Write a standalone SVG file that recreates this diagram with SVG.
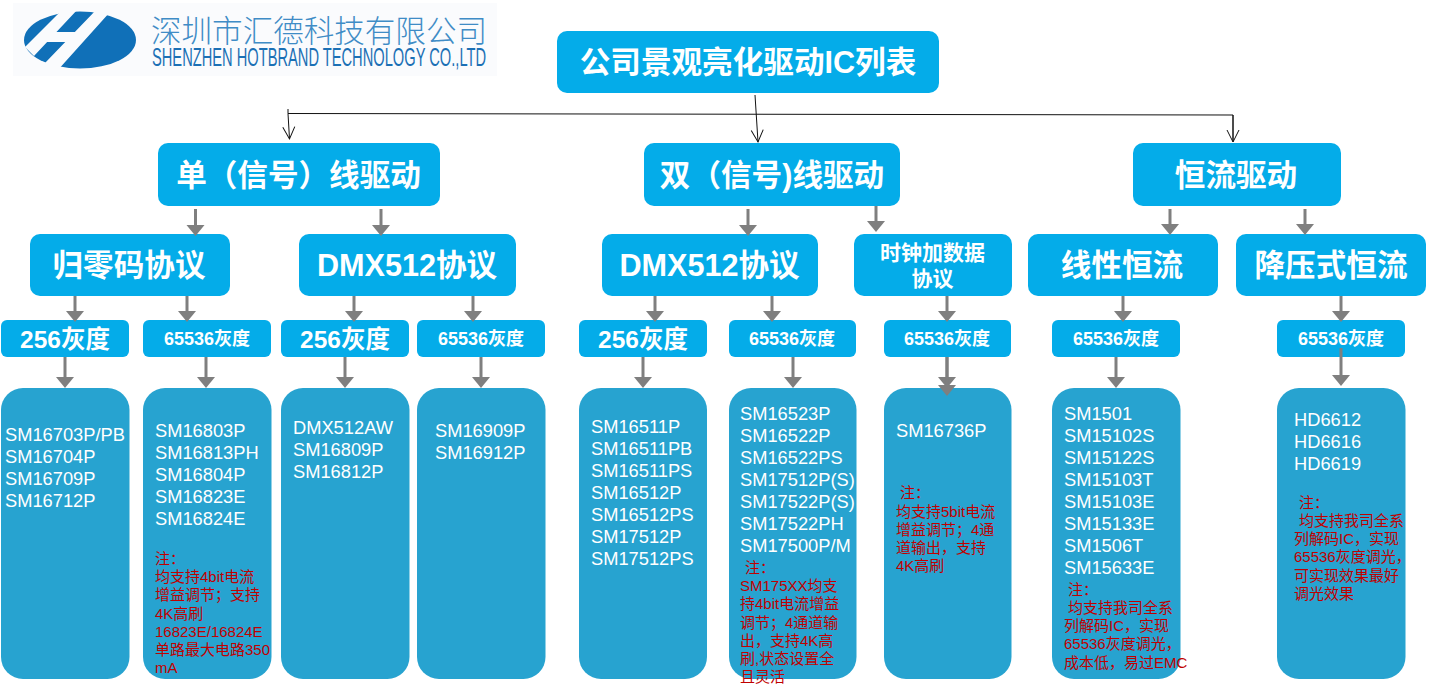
<svg xmlns="http://www.w3.org/2000/svg" width="1430" height="684" viewBox="0 0 1430 684">
<style>
text{font-family:"Liberation Sans","Noto Sans CJK SC",sans-serif}
.b{fill:#04ACE9}
.p{fill:#27A3D0}
.h{fill:#fff;font-weight:700;text-anchor:middle}
.h31{font-size:30.600px}
.h25{font-size:24.500px}
.h18{font-size:18px}
.h21{font-size:21px}
.w{fill:#fff;font-size:18.300px}
.r{fill:#C00000;font-size:15px}
.g{stroke:#7F7F7F;stroke-width:3;fill:none}
.c{marker-end:url(#gb)}
.k{stroke:#111;stroke-width:1;fill:none}
.o{marker-end:url(#oa)}
</style>
<defs>
<marker id="gb" markerUnits="userSpaceOnUse" markerWidth="18" markerHeight="12" refX="0" refY="0" orient="auto" overflow="visible"><path d="M0 -9L11 0L0 9Z" fill="#7F7F7F"/></marker>
<marker id="oa" markerUnits="userSpaceOnUse" markerWidth="14" markerHeight="14" refX="0" refY="0" orient="auto" overflow="visible"><path d="M-12 -6L0 0L-12 6" fill="none" stroke="#111" stroke-width="1"/></marker>
</defs>
<rect width="1430" height="684" fill="#fff"/>
<g id="logo">
<rect x="13" y="3" width="484" height="73" fill="#FAFBFD"/>
<ellipse cx="80" cy="40" rx="56" ry="28.500" fill="#1070B8"/>
<path d="M63 9L78 9L34 56L25 47Z M97 9L110 12L57 71L45 63Z M55 32H83V42H45Z" fill="#FAFBFD"/>
<text x="151" y="42" font-size="30.500" font-weight="300" fill="#3F8CC6" textLength="336" lengthAdjust="spacingAndGlyphs">深圳市汇德科技有限公司</text>
<text x="152" y="66" font-size="25" fill="#1B70B5" textLength="334" lengthAdjust="spacingAndGlyphs">SHENZHEN HOTBRAND TECHNOLOGY CO.,LTD</text>
</g>
<g id="root"><rect class="b" x="557" y="31" width="382" height="62" rx="10"/><text class="h h31" x="748" y="73">公司景观亮化驱动IC列表</text></g>
<g id="n-single"><rect class="b" x="158" y="143" width="282" height="63" rx="10"/><text class="h h31" x="298.500" y="186">单（信号）线驱动</text></g>
<g id="n-double"><rect class="b" x="644" y="143" width="256" height="63" rx="10"/><text class="h h31" x="772" y="186">双（信号)线驱动</text></g>
<g id="n-cc"><rect class="b" x="1133" y="143" width="208" height="63" rx="10"/><text class="h h31" x="1236" y="186">恒流驱动</text></g>

<g id="n-rz"><rect class="b" x="30" y="234" width="200" height="62" rx="10"/><text class="h h31" x="129" y="276">归零码协议</text></g>
<g id="n-dmx1"><rect class="b" x="299" y="234" width="217" height="62" rx="10"/><text class="h h31" x="407" y="276">DMX512协议</text></g>
<g id="n-dmx2"><rect class="b" x="602" y="234" width="216" height="62" rx="10"/><text class="h h31" x="709.500" y="276">DMX512协议</text></g>
<g id="n-clk"><rect class="b" x="854" y="234" width="158" height="62" rx="10"/><text class="h h21" x="932.500" y="260">时钟加数据</text><text class="h h21" x="932.500" y="286">协议</text></g>
<g id="n-lin"><rect class="b" x="1028" y="234" width="190" height="62" rx="10"/><text class="h h31" x="1122" y="276">线性恒流</text></g>
<g id="n-buck"><rect class="b" x="1236" y="234" width="190" height="62" rx="10"/><text class="h h31" x="1331" y="276">降压式恒流</text></g>

<g id="g1"><rect class="b" x="1" y="320" width="128" height="37" rx="6"/><text class="h h25" x="65" y="348">256灰度</text></g>
<g id="g2"><rect class="b" x="143" y="320" width="128" height="37" rx="6"/><text class="h h18" x="207" y="345">65536灰度</text></g>
<g id="g3"><rect class="b" x="281" y="320" width="128" height="37" rx="6"/><text class="h h25" x="345" y="348">256灰度</text></g>
<g id="g4"><rect class="b" x="417" y="320" width="128" height="37" rx="6"/><text class="h h18" x="481" y="345">65536灰度</text></g>
<g id="g5"><rect class="b" x="579" y="320" width="128" height="37" rx="6"/><text class="h h25" x="643" y="348">256灰度</text></g>
<g id="g6"><rect class="b" x="729" y="320" width="127" height="37" rx="6"/><text class="h h18" x="792" y="345">65536灰度</text></g>
<g id="g7"><rect class="b" x="884" y="320" width="127" height="37" rx="6"/><text class="h h18" x="947" y="345">65536灰度</text></g>
<g id="g8"><rect class="b" x="1052" y="320" width="128" height="37" rx="6"/><text class="h h18" x="1116" y="345">65536灰度</text></g>
<g id="g9"><rect class="b" x="1277" y="320" width="128" height="37" rx="6"/><text class="h h18" x="1341" y="345">65536灰度</text></g>

<g id="l1"><rect class="p" x="1" y="388" width="128.500" height="291" rx="22"/>
<text class="w"><tspan x="5" y="441">SM16703P/PB</tspan><tspan x="5" y="463">SM16704P</tspan><tspan x="5" y="485">SM16709P</tspan><tspan x="5" y="507">SM16712P</tspan></text></g>
<g id="l2"><rect class="p" x="143" y="388" width="128.500" height="291" rx="22"/>
<text class="w"><tspan x="155" y="437">SM16803P</tspan><tspan x="155" y="459">SM16813PH</tspan><tspan x="155" y="481">SM16804P</tspan><tspan x="155" y="503">SM16823E</tspan><tspan x="155" y="525">SM16824E</tspan></text>
<text class="r"><tspan x="155" y="564">注：</tspan><tspan x="155" y="582">均支持4bit电流</tspan><tspan x="155" y="600">增益调节；支持</tspan><tspan x="155" y="618.500">4K高刷</tspan><tspan x="155" y="637">16823E/16824E</tspan><tspan x="155" y="655">单路最大电路350</tspan><tspan x="155" y="673">mA</tspan></text></g>
<g id="l3"><rect class="p" x="281" y="388" width="128.500" height="291" rx="22"/>
<text class="w"><tspan x="293" y="434">DMX512AW</tspan><tspan x="293" y="456">SM16809P</tspan><tspan x="293" y="478">SM16812P</tspan></text></g>
<g id="l4"><rect class="p" x="417" y="388" width="128.500" height="291" rx="22"/>
<text class="w"><tspan x="435" y="437">SM16909P</tspan><tspan x="435" y="459">SM16912P</tspan></text></g>
<g id="l5"><rect class="p" x="579" y="388" width="128" height="291" rx="22"/>
<text class="w"><tspan x="591" y="433">SM16511P</tspan><tspan x="591" y="455">SM16511PB</tspan><tspan x="591" y="477">SM16511PS</tspan><tspan x="591" y="499">SM16512P</tspan><tspan x="591" y="521">SM16512PS</tspan><tspan x="591" y="543">SM17512P</tspan><tspan x="591" y="565">SM17512PS</tspan></text></g>
<g id="l6"><rect class="p" x="729" y="388" width="127.500" height="291" rx="22"/>
<text class="w"><tspan x="740" y="420">SM16523P</tspan><tspan x="740" y="442">SM16522P</tspan><tspan x="740" y="464">SM16522PS</tspan><tspan x="740" y="486">SM17512P(S)</tspan><tspan x="740" y="508">SM17522P(S)</tspan><tspan x="740" y="530">SM17522PH</tspan><tspan x="740" y="552">SM17500P/M</tspan></text>
<text class="r"><tspan x="745" y="573">注：</tspan><tspan x="740" y="591">SM175XX均支</tspan><tspan x="740" y="609">持4bit电流增益</tspan><tspan x="740" y="628">调节；4通道输</tspan><tspan x="740" y="646">出，支持4K高</tspan><tspan x="740" y="664">刷,状态设置全</tspan><tspan x="740" y="682">且灵活</tspan></text></g>
<g id="l7"><rect class="p" x="884" y="388" width="127.500" height="291" rx="22"/>
<text class="w"><tspan x="896" y="437">SM16736P</tspan></text>
<text class="r"><tspan x="900" y="498">注：</tspan><tspan x="896" y="517">均支持5bit电流</tspan><tspan x="896" y="535">增益调节；4通</tspan><tspan x="896" y="553">道输出，支持</tspan><tspan x="896" y="571">4K高刷</tspan></text></g>
<g id="l8"><rect class="p" x="1052" y="388" width="128.500" height="291" rx="22"/>
<text class="w"><tspan x="1064" y="420">SM1501</tspan><tspan x="1064" y="442">SM15102S</tspan><tspan x="1064" y="464">SM15122S</tspan><tspan x="1064" y="486">SM15103T</tspan><tspan x="1064" y="508">SM15103E</tspan><tspan x="1064" y="530">SM15133E</tspan><tspan x="1064" y="552">SM1506T</tspan><tspan x="1064" y="574">SM15633E</tspan></text>
<text class="r"><tspan x="1068" y="595">注：</tspan><tspan x="1068" y="613">均支持我司全系</tspan><tspan x="1064" y="631">列解码IC，实现</tspan><tspan x="1064" y="649">65536灰度调光，</tspan><tspan x="1064" y="668">成本低，易过EMC</tspan></text></g>
<g id="l9"><rect class="p" x="1277" y="388" width="128.500" height="291" rx="22"/>
<text class="w"><tspan x="1294" y="426">HD6612</tspan><tspan x="1294" y="448">HD6616</tspan><tspan x="1294" y="470">HD6619</tspan></text>
<text class="r"><tspan x="1299" y="508">注：</tspan><tspan x="1299" y="526">均支持我司全系</tspan><tspan x="1294" y="544">列解码IC，实现</tspan><tspan x="1294" y="562">65536灰度调光，</tspan><tspan x="1294" y="581">可实现效果最好</tspan><tspan x="1294" y="599">调光效果</tspan></text></g>
<g id="connectors">
<path class="k" d="M288 109V113.500L1233 115V141"/>
<path class="k o" d="M288 113.500L289.500 139"/>
<path class="k o" d="M755 95L758 142"/>
<path class="k o" d="M1233 115V142"/>
<g class="g">
<path class="c" d="M195.500 209V225"/><path class="c" d="M381 209V225"/>
<path class="c" d="M748 209V225"/><path class="c" d="M876 206V221"/>
<path class="c" d="M1170 209V224"/><path class="c" d="M1305 209V224"/>
<path class="c" d="M75 296V311"/><path class="c" d="M187 296V311"/><path class="c" d="M354 296V311"/><path class="c" d="M473 296V311"/>
<path class="c" d="M655 296V311"/><path class="c" d="M772 296V311"/><path class="c" d="M947 296V311"/><path class="c" d="M1123 296V311"/><path class="c" d="M1341 296V311"/>
<path class="c" d="M65 357V377"/><path class="c" d="M206 357V377"/><path class="c" d="M345 357V377"/><path class="c" d="M481 357V377"/>
<path class="c" d="M643 357V377"/><path class="c" d="M793 357V377"/>
<path class="c" d="M947 357V377"/><path class="c" d="M947 357V385"/>
<path class="c" d="M1116 357V377"/>
<path class="c" d="M1341 348V375"/>
</g>
</g>
</svg>
